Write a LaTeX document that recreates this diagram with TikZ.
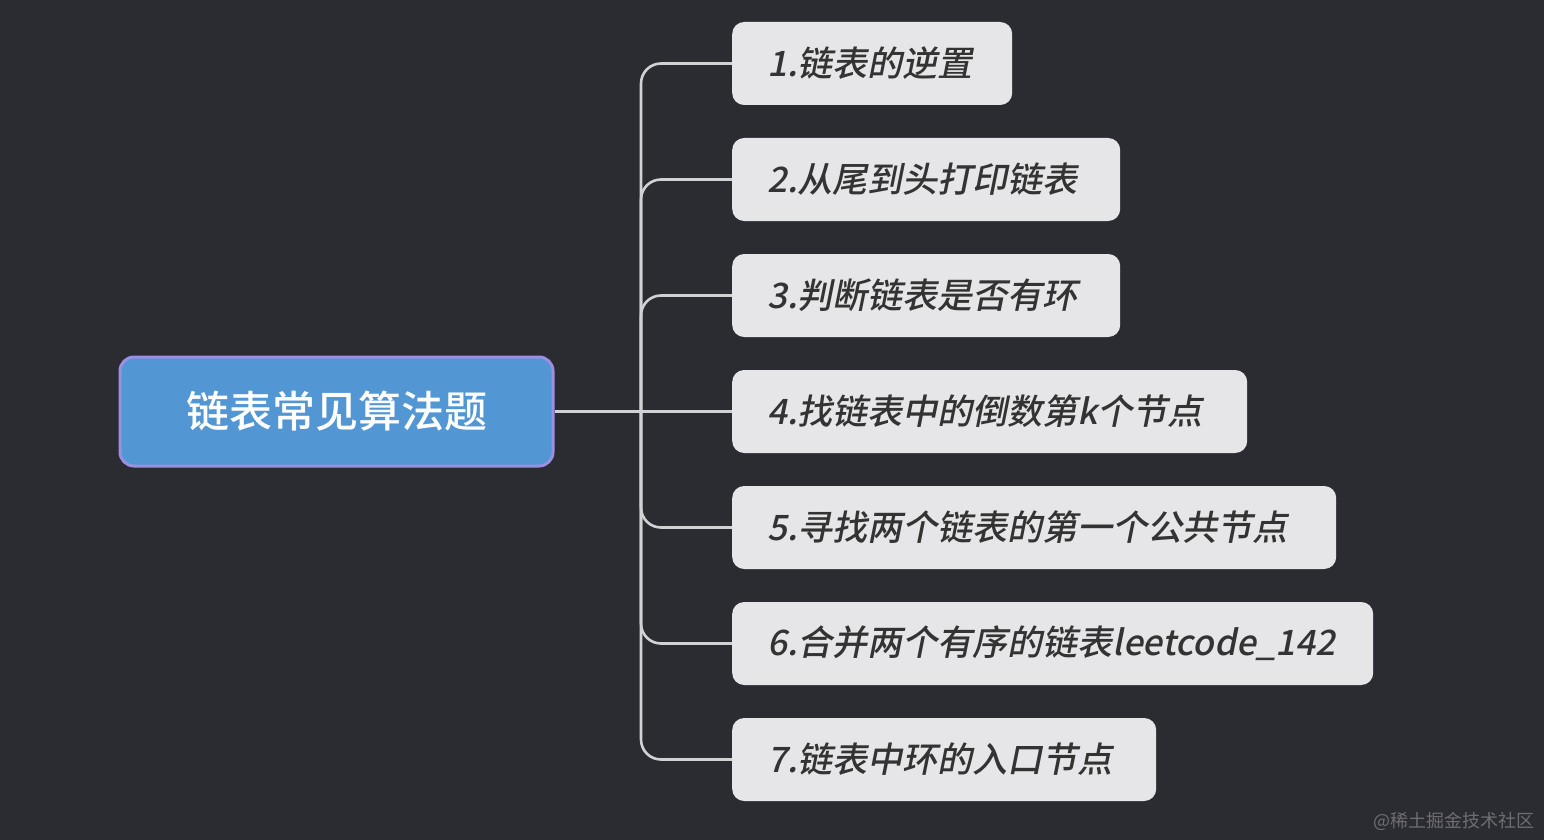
\documentclass[tikz,border=0pt]{standalone}
\usepackage{fontspec}
\setmainfont{Noto Sans CJK SC}
\newfontfamily\cjkit[FakeSlant=0.2]{Noto Sans CJK SC Medium}
\newfontfamily\cjkmed{Noto Sans CJK SC Medium}
\definecolor{bg}{HTML}{2B2C31}
\definecolor{rootfill}{HTML}{5296D4}
\definecolor{rootborder}{HTML}{9A8FE0}
\definecolor{leaffill}{HTML}{E6E6E8}
\definecolor{leaftext}{HTML}{333333}
\definecolor{linec}{HTML}{D2D2D4}
\definecolor{wm}{HTML}{6E6E72}
\begin{document}
\begin{tikzpicture}[x=1pt,y=-1pt,
  rootbox/.style={draw=rootborder, line width=3pt, fill=rootfill, rounded corners=14pt,
    minimum width=433pt, minimum height=109pt, inner sep=0pt, text=white,
    font=\cjkmed\fontsize{43}{46}\selectfont},
  leafbox/.style={fill=leaffill, rounded corners=12pt, minimum height=83pt, anchor=west,
    inner xsep=35pt, inner ysep=0pt, align=left, text=leaftext,
    font=\cjkit\fontsize{35}{38}\selectfont},
  conn/.style={draw=linec, line width=2.6pt, rounded corners=20pt}]
\fill[bg] (0,0) rectangle (1544,840);
\useasboundingbox (0,0) rectangle (1544,840);
\node[rootbox] (root) at (336.5,411.5) {链表常见算法题};
\node[leafbox, text width=210pt] (c1) at (732,63.5) {1.链表的逆置};
\node[leafbox, text width=318pt] (c2) at (732,179.5) {2.从尾到头打印链表};
\node[leafbox, text width=318pt] (c3) at (732,295.5) {3.判断链表是否有环};
\node[leafbox, text width=445pt] (c4) at (732,411.5) {4.找链表中的倒数第k个节点};
\node[leafbox, text width=534pt] (c5) at (732,527.5) {5.寻找两个链表的第一个公共节点};
\node[leafbox, text width=571pt] (c6) at (732,643.5) {6.合并两个有序的链表leetcode\_142};
\node[leafbox, text width=354pt] (c7) at (732,759.5) {7.链表中环的入口节点};
\coordinate (mid) at (641,411.5);
\foreach \c in {c1,c2,c3,c5,c6,c7}{
  \draw[conn] (mid) |- (\c.west);
}
\draw[conn] (root.east) -- (c4.west);
\node[anchor=east, text=wm, font=\fontsize{18}{20}\selectfont, inner sep=0pt] (wmk) at (1535,821) {@稀土掘金技术社区};
\end{tikzpicture}
\end{document}
